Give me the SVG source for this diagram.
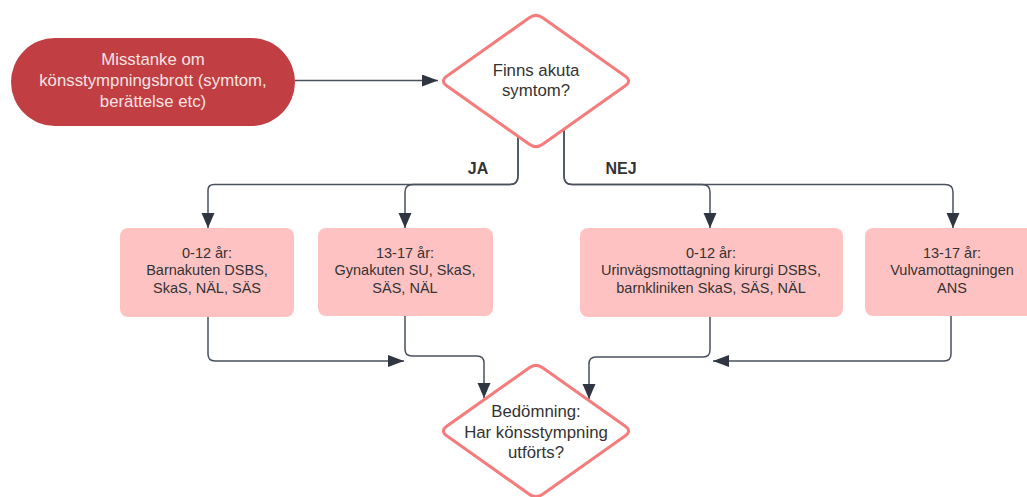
<svg xmlns="http://www.w3.org/2000/svg" width="1027" height="497" viewBox="0 0 1027 497">
<style>
text{font-family:"Liberation Sans",Arial,sans-serif;text-anchor:middle;fill:#333}
.pill{fill:#c13e42}
.pt{fill:#f7e3e3;font-size:16.8px}
.dia{fill:#fff;stroke:#f47c7c;stroke-width:3}
.dt{font-size:16.8px}
.box{fill:#ffc2c2}
.bt{font-size:14.5px}
.lbl{font-size:16px;font-weight:bold}
.c{fill:none;stroke:#4a515c;stroke-width:1.5}
.h{marker-end:url(#ah)}
.v{marker-end:url(#av)}
</style>
<defs>
<marker id="ah" markerUnits="userSpaceOnUse" markerWidth="20" markerHeight="20" refX="16" refY="6" orient="auto"><path d="M0,0 L16,6 L0,12 Z" fill="#2f3641"/></marker>
<marker id="av" markerUnits="userSpaceOnUse" markerWidth="20" markerHeight="20" refX="15" refY="6.5" orient="auto"><path d="M0,0 L15,6.5 L0,13 Z" fill="#2f3641"/></marker>
</defs>
<rect width="1027" height="497" fill="#fff"/>
<g id="connectors">
<path class="c h" d="M295,80.5 H438"/>
<path class="c v" d="M518,137 V176 Q518,184.5 510,184.5 H214 Q208,184.5 208,190 V228"/>
<path class="c v" d="M518,137 V176 Q518,184.5 510,184.5 H413 Q405,184.5 405,192 V228"/>
<path class="c v" d="M564,130 V176 Q564,184.5 572,184.5 H702 Q710,184.5 710,192 V228"/>
<path class="c v" d="M564,130 V176 Q564,184.5 572,184.5 H945 Q953,184.5 953,192 V228"/>
<path class="c h" d="M208,317 V354 Q208,361 215,361 H404"/>
<path class="c v" d="M405,316 V349 Q405,356 412,356 H477 Q484,356 484,363 V398"/>
<path class="c v" d="M710,317 V350 Q710,357 703,357 H596 Q589,357 589,364 V399"/>
<path class="c h" d="M951,316 V354 Q951,361 944,361 H713"/>
<text class="lbl" x="478" y="174">JA</text>
<text class="lbl" x="621" y="174">NEJ</text>
</g>
<g id="start">
<rect class="pill" x="11" y="38" width="284" height="88" rx="44"/>
<text class="pt" x="153" y="65">Misstanke om</text>
<text class="pt" x="153" y="86">könsstympningsbrott (symtom,</text>
<text class="pt" x="153" y="107">berättelse etc)</text>
</g>
<g id="decision1">
<path class="dia" d="M542.7,17.8 L625.3,76.2 Q632,81 625.3,85.8 L542.7,144.2 Q536,149 529.3,144.2 L446.7,85.8 Q440,81 446.7,76.2 L529.3,17.8 Q536,13 542.7,17.8 Z"/>
<text class="dt" x="536" y="76">Finns akuta</text>
<text class="dt" x="536" y="96">symtom?</text>
</g>
<g id="box1">
<rect class="box" x="120" y="228" width="174" height="89" rx="8"/>
<text class="bt" x="207" y="257.5">0-12 år:</text>
<text class="bt" x="207" y="275">Barnakuten DSBS,</text>
<text class="bt" x="207" y="292.5">SkaS, NÄL, SÄS</text>
</g>
<g id="box2">
<rect class="box" x="318" y="228" width="175" height="88" rx="8"/>
<text class="bt" x="405" y="257.5">13-17 år:</text>
<text class="bt" x="405" y="275">Gynakuten SU, SkaS,</text>
<text class="bt" x="405" y="292.5">SÄS, NÄL</text>
</g>
<g id="box3">
<rect class="box" x="580" y="228" width="263" height="89" rx="8"/>
<text class="bt" x="711" y="257.5">0-12 år:</text>
<text class="bt" x="711" y="275">Urinvägsmottagning kirurgi DSBS,</text>
<text class="bt" x="711" y="292.5">barnkliniken SkaS, SÄS, NÄL</text>
</g>
<g id="box4">
<rect class="box" x="865" y="228" width="175" height="88" rx="8"/>
<text class="bt" x="952" y="257.5">13-17 år:</text>
<text class="bt" x="952" y="275">Vulvamottagningen</text>
<text class="bt" x="952" y="292.5">ANS</text>
</g>
<g id="decision2">
<path class="dia" d="M542.7,367.8 L625.3,426.2 Q632,431 625.3,435.8 L542.7,494.2 Q536,499 529.3,494.2 L446.7,435.8 Q440,431 446.7,426.2 L529.3,367.8 Q536,363 542.7,367.8 Z"/>
<text class="dt" x="536" y="417">Bedömning:</text>
<text class="dt" x="536" y="438">Har könsstympning</text>
<text class="dt" x="536" y="458">utförts?</text>
</g>
</svg>
